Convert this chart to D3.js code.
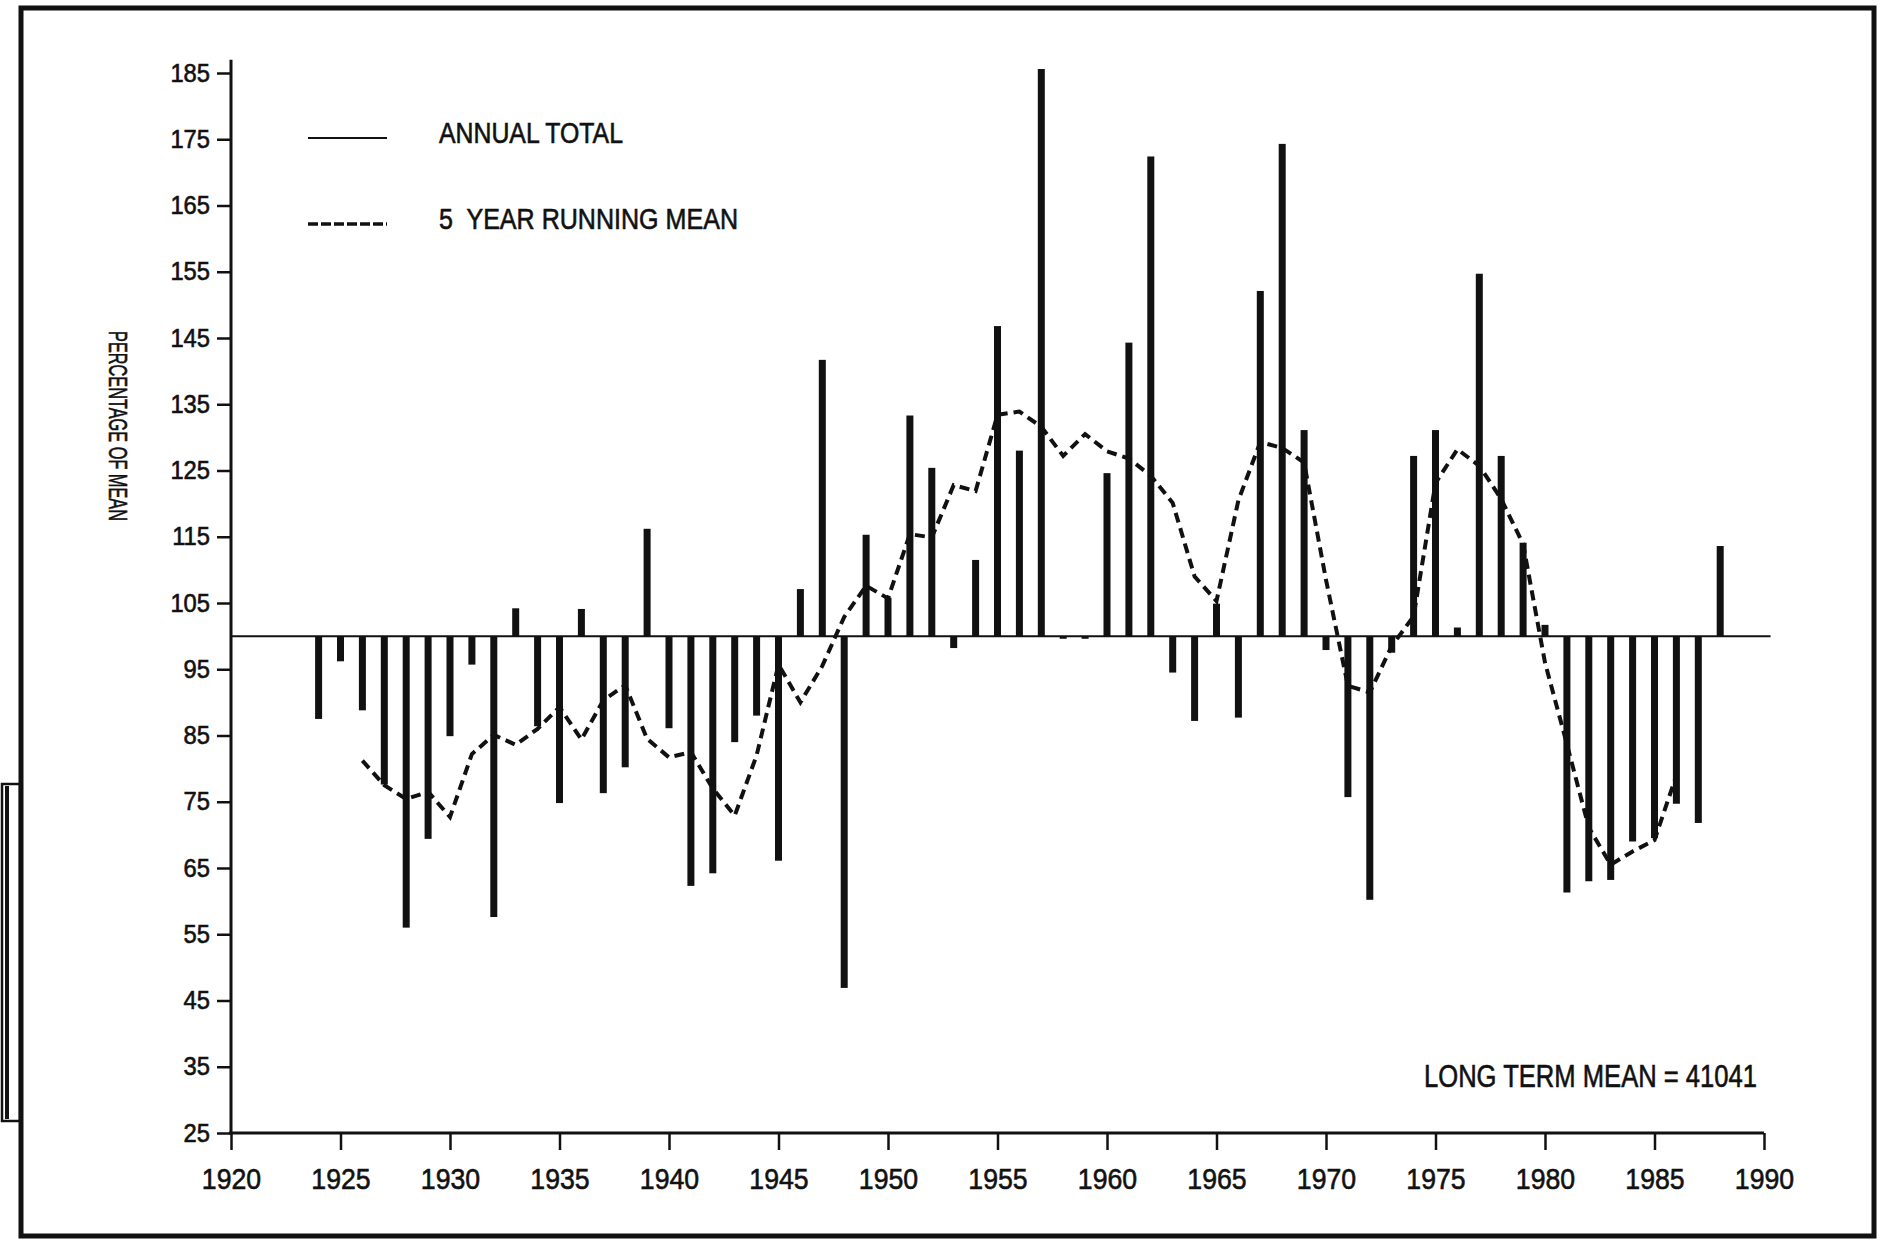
<!DOCTYPE html>
<html>
<head>
<meta charset="utf-8">
<script src="https://cdn.jsdelivr.net/npm/d3@7/dist/d3.min.js"></script>
<style>
  html, body { margin: 0; padding: 0; background: #ffffff; }
  svg { display: block; }
  .lbl { font-family: "Liberation Sans", Arial, sans-serif; fill: #111; stroke: #111; stroke-width: 0.6px; }
</style>
</head>
<body>
<svg id="chart" width="1885" height="1243"></svg>
<script>
// Annual totals as percentage of the long term mean
const years = [1924, 1925, 1926, 1927, 1928, 1929, 1930, 1931, 1932, 1933,
  1934, 1935, 1936, 1937, 1938, 1939, 1940, 1941, 1942, 1943,
  1944, 1945, 1946, 1947, 1948, 1949, 1950, 1951, 1952, 1953,
  1954, 1955, 1956, 1957, 1958, 1959, 1960, 1961, 1962, 1963,
  1964, 1965, 1966, 1967, 1968, 1969, 1970, 1971, 1972, 1973,
  1974, 1975, 1976, 1977, 1978, 1979, 1980, 1981, 1982, 1983,
  1984, 1985, 1986, 1987, 1988];
const annualTotal = [87.5, 96.2, 88.8, 77.6, 56.0, 69.4, 84.9, 95.7, 57.6, 104.2,
  86.4, 74.8, 104.1, 76.3, 80.2, 116.2, 86.1, 62.3, 64.2, 84.0,
  88.0, 66.1, 107.1, 141.7, 46.9, 115.3, 105.8, 133.3, 125.4, 98.2,
  111.5, 146.8, 128.0, 185.6, 99.6, 99.6, 124.6, 144.3, 172.4, 94.5,
  87.2, 104.9, 87.7, 152.1, 174.3, 131.1, 97.9, 75.7, 60.2, 97.5,
  127.2, 131.1, 101.3, 154.7, 127.2, 114.1, 101.7, 61.3, 63.0, 63.2,
  69.0, 69.5, 74.7, 71.8, 113.6];

// 5 year running mean
const meanYears = [1926, 1927, 1928, 1929, 1930, 1931, 1932, 1933, 1934, 1935,
  1936, 1937, 1938, 1939, 1940, 1941, 1942, 1943, 1944, 1945,
  1946, 1947, 1948, 1949, 1950, 1951, 1952, 1953, 1954, 1955,
  1956, 1957, 1958, 1959, 1960, 1961, 1962, 1963, 1964, 1965,
  1966, 1967, 1968, 1969, 1970, 1971, 1972, 1973, 1974, 1975,
  1976, 1977, 1978, 1979, 1980, 1981, 1982, 1983, 1984, 1985, 1986];
const runningMean = [81.2, 77.5, 75.4, 76.5, 72.7, 82.2, 85.1, 83.6, 86.0, 89.3,
  84.4, 90.3, 92.6, 84.5, 81.7, 82.5, 77.0, 72.9, 82.0, 95.7,
  90.0, 95.5, 102.9, 107.6, 105.7, 115.4, 114.9, 122.8, 121.9, 133.4,
  133.9, 131.6, 127.2, 130.5, 127.9, 126.8, 124.2, 120.1, 109.0, 105.3,
  120.5, 129.3, 128.4, 126.2, 108.5, 92.5, 91.5, 98.5, 103.0, 123.1,
  128.2, 125.7, 120.7, 113.9, 96.0, 83.7, 71.1, 65.5, 67.5, 69.2, 79.0];

const yTicks = [25, 35, 45, 55, 65, 75, 85, 95, 105, 115, 125, 135, 145, 155, 165, 175, 185];
const xTicks = [1920, 1925, 1930, 1935, 1940, 1945, 1950, 1955, 1960, 1965, 1970, 1975, 1980, 1985, 1990];
const baseline = 100;
const legendItems = ["ANNUAL TOTAL", "5  YEAR RUNNING MEAN"];
const yTitle = "PERCENTAGE OF MEAN";
const meanNote = "LONG TERM MEAN = 41041";

const svg = d3.select("#chart");

const x = d3.scaleLinear().domain([1920, 1990]).range([231, 1764]);
const y = d3.scaleLinear().domain([25, 185]).range([1133, 73]);

// squeeze text horizontally around its anchor point, like a plotter stroke font
function condense(sel, k) {
  sel.each(function () {
    const t = d3.select(this);
    const x0 = +(t.attr("x") || 0);
    t.attr("x", x0 / k).attr("transform", `scale(${k},1)`);
  });
}

// page frame
svg.append("rect")
  .attr("x", 21).attr("y", 8).attr("width", 1853).attr("height", 1228)
  .attr("fill", "none").attr("stroke", "#111").attr("stroke-width", 5);
svg.append("rect")
  .attr("x", 2).attr("y", 784).attr("width", 18).attr("height", 337)
  .attr("fill", "none").attr("stroke", "#111").attr("stroke-width", 2.5);
svg.append("line")
  .attr("x1", 7).attr("x2", 7).attr("y1", 786).attr("y2", 1119)
  .attr("stroke", "#111").attr("stroke-width", 4);

// mean line at 100 %
svg.append("line")
  .attr("x1", x(1920)).attr("x2", x(1990.3))
  .attr("y1", y(baseline)).attr("y2", y(baseline))
  .attr("stroke", "#111").attr("stroke-width", 2);

// y axis
const yAxis = d3.axisLeft(y).tickValues(yTicks).tickSize(14).tickPadding(7).tickSizeOuter(0);
const gy = svg.append("g").attr("transform", `translate(${x(1920)},0)`).call(yAxis);
gy.select(".domain").remove();
gy.selectAll(".tick line").attr("stroke", "#111").attr("stroke-width", 2.5);
gy.selectAll(".tick text").attr("class", "lbl").attr("fill", "#111")
  .style("font-size", "25px");
condense(gy.selectAll(".tick text"), 0.95);
svg.append("line")
  .attr("x1", x(1920)).attr("x2", x(1920))
  .attr("y1", y(187)).attr("y2", y(25))
  .attr("stroke", "#111").attr("stroke-width", 3);

// x axis
const xAxis = d3.axisBottom(x).tickValues(xTicks).tickFormat(d3.format("d")).tickSize(17).tickPadding(18).tickSizeOuter(0);
const gx = svg.append("g").attr("transform", `translate(0,${y(25)})`).call(xAxis);
gx.select(".domain").remove();
gx.selectAll(".tick line").attr("stroke", "#111").attr("stroke-width", 2.5);
gx.selectAll(".tick text").attr("class", "lbl").attr("fill", "#111")
  .style("font-size", "29px");
condense(gx.selectAll(".tick text"), 0.92);
svg.append("line")
  .attr("x1", x(1920) - 2).attr("x2", x(1990))
  .attr("y1", y(25)).attr("y2", y(25))
  .attr("stroke", "#111").attr("stroke-width", 3);

// annual total bars
const bars = years.map((yr, i) => ({ year: yr, value: annualTotal[i] }));
svg.append("g").selectAll("rect").data(bars).join("rect")
  .attr("x", d => x(d.year) - 3.5)
  .attr("width", 7)
  .attr("y", d => Math.min(y(d.value), y(baseline)))
  .attr("height", d => Math.abs(y(d.value) - y(baseline)))
  .attr("fill", "#111");

// running mean
const meanPts = meanYears.map((yr, i) => ({ year: yr, value: runningMean[i] }));
svg.append("path")
  .datum(meanPts)
  .attr("d", d3.line().x(d => x(d.year)).y(d => y(d.value)))
  .attr("fill", "none").attr("stroke", "#111")
  .attr("stroke-width", 4).attr("stroke-dasharray", "10,6");

// legend
const legend = svg.append("g");
legend.append("line").attr("x1", 308).attr("x2", 387).attr("y1", 138).attr("y2", 138)
  .attr("stroke", "#111").attr("stroke-width", 2);
legend.append("line").attr("x1", 308).attr("x2", 387).attr("y1", 224).attr("y2", 224)
  .attr("stroke", "#111").attr("stroke-width", 3.5).attr("stroke-dasharray", "10,3");
const legendWidths = [184, 299];
legend.selectAll("text").data(legendItems).join("text")
  .attr("class", "lbl")
  .attr("x", 439)
  .attr("y", (d, i) => 143 + i * 86)
  .attr("textLength", (d, i) => legendWidths[i])
  .attr("lengthAdjust", "spacingAndGlyphs")
  .style("font-size", "29px")
  .style("white-space", "pre")
  .text(d => d);

// axis title
svg.append("text").attr("class", "lbl")
  .attr("transform", "translate(109,426) rotate(90)")
  .attr("x", -95)
  .attr("textLength", 190)
  .attr("lengthAdjust", "spacingAndGlyphs")
  .style("font-size", "25px")
  .text(yTitle);

// long term mean note
svg.append("text").attr("class", "lbl")
  .attr("x", 1424).attr("y", 1087)
  .attr("textLength", 333)
  .attr("lengthAdjust", "spacingAndGlyphs")
  .style("font-size", "31px")
  .text(meanNote);
</script>
</body>
</html>
